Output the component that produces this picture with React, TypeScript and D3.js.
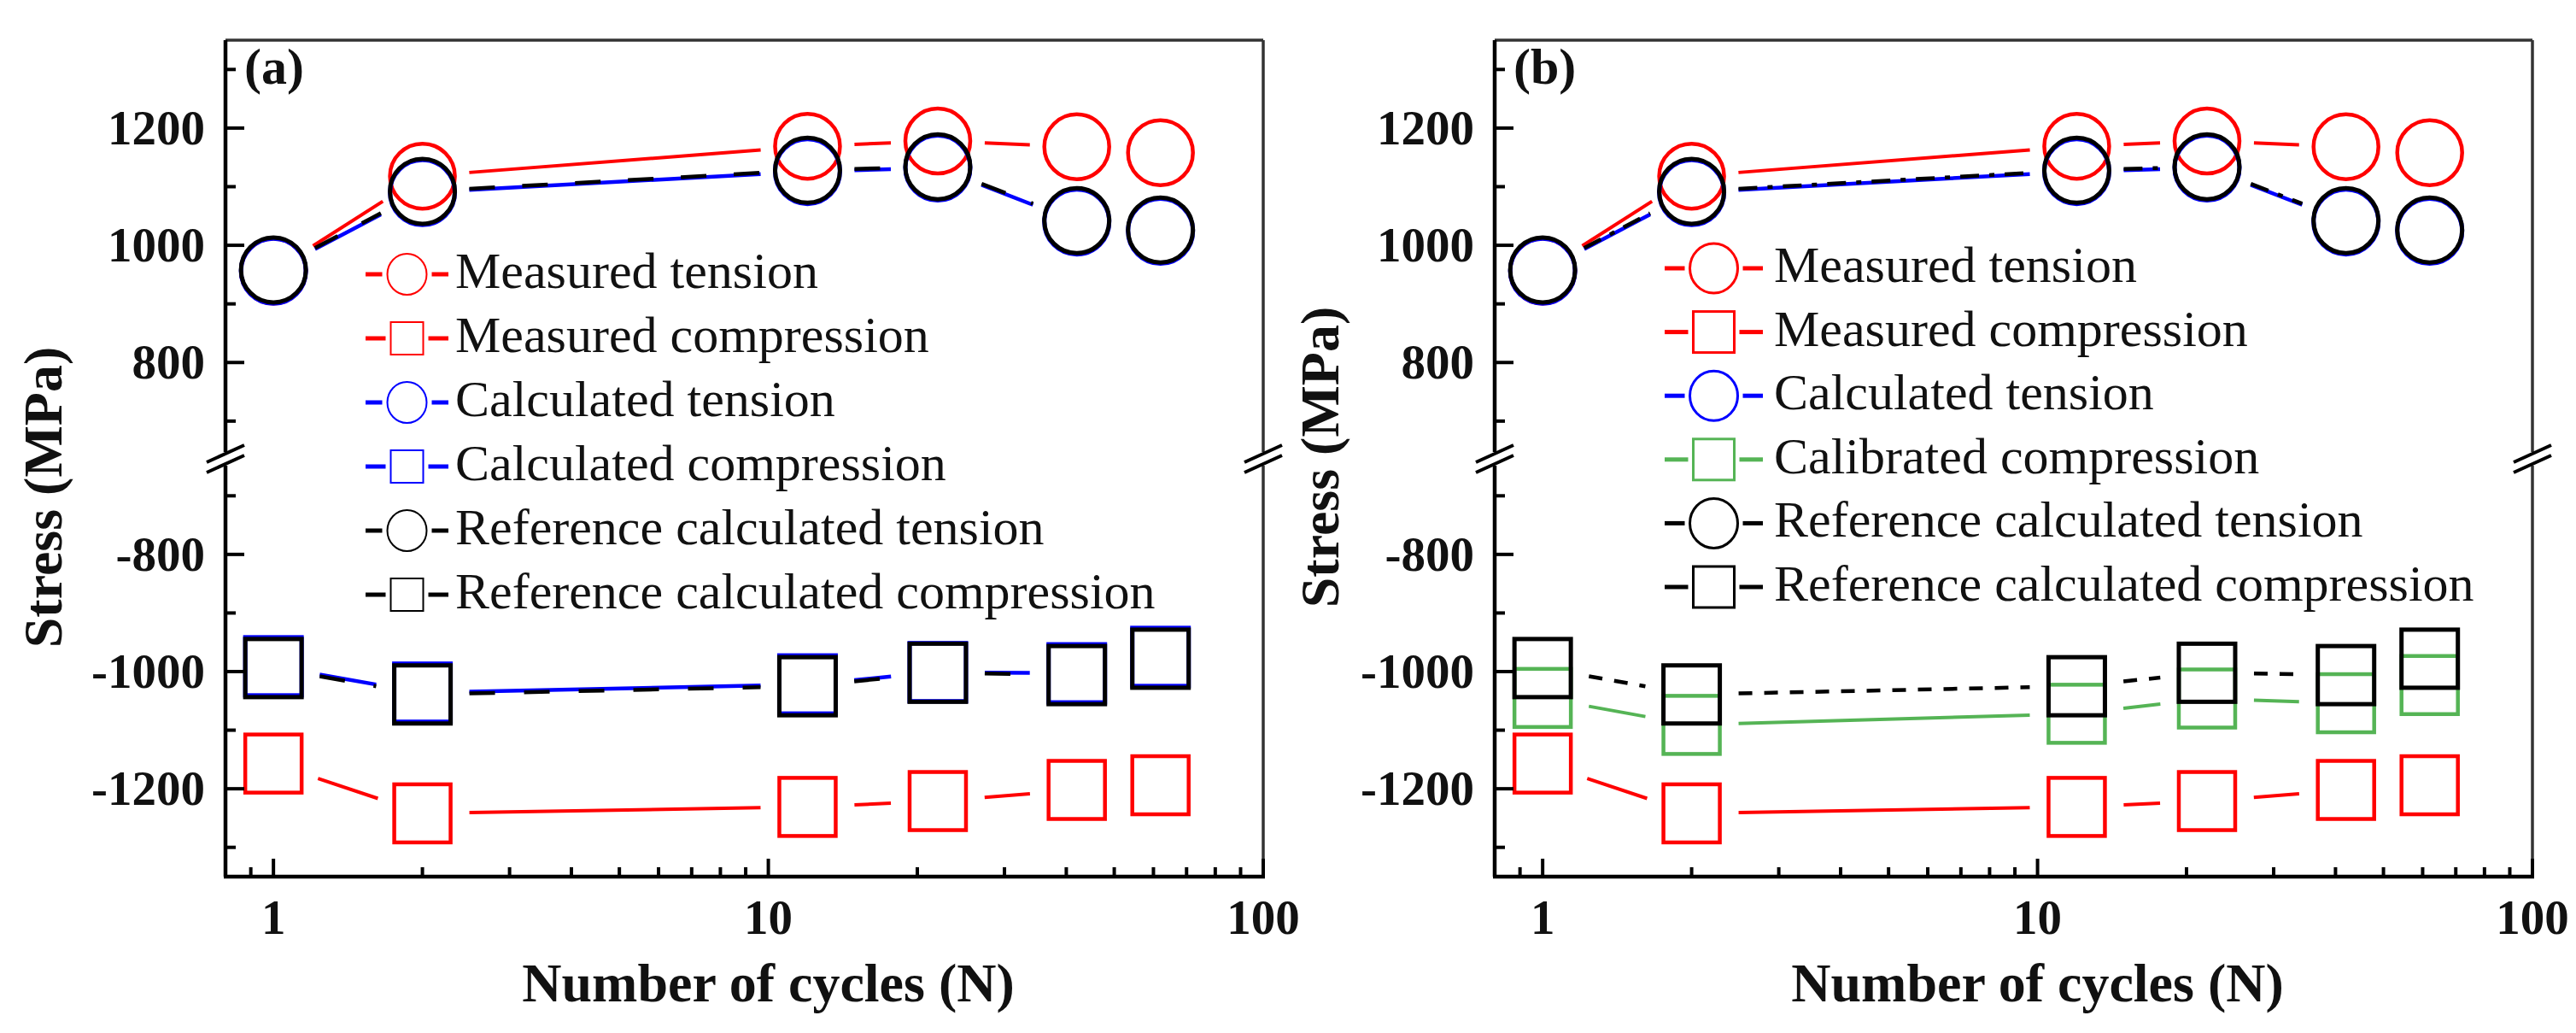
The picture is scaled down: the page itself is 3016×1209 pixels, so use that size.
import { useEffect, useRef } from 'react';
import * as d3 from 'd3';

const W = 3016;
const H = 1209;

// data (stress in MPa, N = cycle number)
const cycles = [1, 2, 12, 22, 42, 62];
const measuredTension = [956, 1118, 1169, 1178, 1168, 1158];
const measuredCompression = [-1157, -1242, -1231, -1221, -1202, -1194];
const calculatedTension = [956, 1090, 1126, 1132, 1040, 1024];
const calculatedCompression = [-991, -1036, -1022, -1001, -1003, -975];
const calibratedCompression = [-1045, -1091, -1072, -1046, -1054, -1023];
const refTension = [958, 1092, 1128, 1134, 1042, 1026];
const refCompression = [-994, -1039, -1025, -1002, -1006, -978];

const upperTicks = [800, 1000, 1200];
const upperMinor = [700, 900, 1100, 1300];
const lowerTicks = [-800, -1000, -1200];
const lowerMinor = [-700, -900, -1100, -1300];
const xTickLabels = ['1', '10', '100'];

const legendA = [
  'Measured tension',
  'Measured compression',
  'Calculated tension',
  'Calculated compression',
  'Reference calculated tension',
  'Reference calculated compression',
];
const legendB = [
  'Measured tension',
  'Measured compression',
  'Calculated tension',
  'Calibrated compression',
  'Reference calculated tension',
  'Reference calculated compression',
];

const RED = '#ff0000';
const BLUE = '#0000ff';
const GREEN = '#55b455';
const BLACK = '#000000';
const FONT = "'Liberation Serif', 'Times New Roman', serif";

type Series = {
  values: number[];
  color: string;
  marker: 'circle' | 'square';
  upper: boolean;
  dash: string | null;
  sw: number;
};

const seriesA: Series[] = [
  { values: measuredTension, color: RED, marker: 'circle', upper: true, dash: null, sw: 4 },
  { values: measuredCompression, color: RED, marker: 'square', upper: false, dash: null, sw: 4 },
  { values: calculatedTension, color: BLUE, marker: 'circle', upper: true, dash: null, sw: 4.5 },
  { values: calculatedCompression, color: BLUE, marker: 'square', upper: false, dash: null, sw: 4.5 },
  { values: refTension, color: BLACK, marker: 'circle', upper: true, dash: '30,32', sw: 4.5 },
  { values: refCompression, color: BLACK, marker: 'square', upper: false, dash: '30,34', sw: 4.5 },
];

const seriesB: Series[] = [
  { values: measuredTension, color: RED, marker: 'circle', upper: true, dash: null, sw: 4 },
  { values: measuredCompression, color: RED, marker: 'square', upper: false, dash: null, sw: 4 },
  { values: calculatedTension, color: BLUE, marker: 'circle', upper: true, dash: null, sw: 4.5 },
  { values: calibratedCompression, color: GREEN, marker: 'square', upper: false, dash: null, sw: 4 },
  { values: refTension, color: BLACK, marker: 'circle', upper: true, dash: '22,12,6,12', sw: 4.5 },
  { values: refCompression, color: BLACK, marker: 'square', upper: false, dash: '16,14', sw: 4.5 },
];

const legendColors = [
  [RED, RED, BLUE, BLUE, BLACK, BLACK],
  [RED, RED, BLUE, GREEN, BLACK, BLACK],
];
const legendMarkers: ('circle' | 'square')[] = ['circle', 'square', 'circle', 'square', 'circle', 'square'];

const PANELS = [
  {
    left: 264, tag: '(a)', series: seriesA, legend: legendA, colors: legendColors[0],
    legX: 428, legW: 97, legTextX: 533, legY0: 321, legStep: 75, legR: 23, legSq: 38, legSw: 2,
    yTitleX: 72, yTitleY: 582,
  },
  {
    left: 1750, tag: '(b)', series: seriesB, legend: legendB, colors: legendColors[1],
    legX: 1949, legW: 115, legTextX: 2077, legY0: 314, legStep: 74.6, legR: 28, legSq: 48, legSw: 3,
    yTitleX: 1567, yTitleY: 535,
  },
];

const PW = 1215;
const TOP = 47;
const BOTTOM = 1026;
const BREAK_Y = 537;
const GAP = 55;

function gapSegments(pts: [number, number][], gap: number) {
  const segs: [number, number, number, number][] = [];
  for (let i = 0; i < pts.length - 1; i++) {
    const [x0, y0] = pts[i];
    const [x1, y1] = pts[i + 1];
    const dx = x1 - x0, dy = y1 - y0;
    const len = Math.hypot(dx, dy);
    if (len <= 2 * gap + 2) continue;
    const ux = dx / len, uy = dy / len;
    segs.push([x0 + ux * gap, y0 + uy * gap, x1 - ux * gap, y1 - uy * gap]);
  }
  return segs;
}

export default function App() {
  const svgRef = useRef<SVGSVGElement>(null);

  useEffect(() => {
    if (!svgRef.current) return;
    const svg = d3.select(svgRef.current);
    svg.selectAll('*').remove();
    svg.append('rect').attr('width', W).attr('height', H).attr('fill', '#fff');

    const yUp = d3.scaleLinear().domain([640, 1350]).range([534, TOP]);
    const yLow = d3.scaleLinear().domain([-1350, -650]).range([BOTTOM, 546]);

    PANELS.forEach(p => {
      const x = d3.scaleLog().domain([0.8, 100]).range([p.left, p.left + PW]);
      const right = p.left + PW;
      const g = svg.append('g');

      // data lines (with gaps round the markers) and markers
      p.series.forEach(s => {
        const y = s.upper ? yUp : yLow;
        const pts: [number, number][] = cycles.map((c, i) => [x(c), y(s.values[i])]);
        gapSegments(pts, GAP).forEach(([x0, y0, x1, y1]) => {
          g.append('line')
            .attr('x1', x0).attr('y1', y0).attr('x2', x1).attr('y2', y1)
            .attr('stroke', s.color).attr('stroke-width', s.sw)
            .attr('stroke-dasharray', s.dash ?? null);
        });
        pts.forEach(([px, py]) => {
          if (s.marker === 'circle') {
            g.append('circle').attr('cx', px).attr('cy', py).attr('r', 38)
              .attr('fill', 'none').attr('stroke', s.color).attr('stroke-width', s.sw + 0.5);
          } else {
            g.append('rect').attr('x', px - 33).attr('y', py - 34).attr('width', 66).attr('height', 68)
              .attr('fill', 'none').attr('stroke', s.color).attr('stroke-width', s.sw + 0.5);
          }
        });
      });

      // frame: top and right thinner
      g.append('line').attr('x1', p.left).attr('x2', right).attr('y1', TOP).attr('y2', TOP)
        .attr('stroke', '#333').attr('stroke-width', 3.5);
      [[TOP, BREAK_Y - 8], [BREAK_Y + 8, BOTTOM]].forEach(([a, b]) => {
        g.append('line').attr('x1', p.left).attr('x2', p.left).attr('y1', a).attr('y2', b)
          .attr('stroke', BLACK).attr('stroke-width', 4.5);
        g.append('line').attr('x1', right).attr('x2', right).attr('y1', a).attr('y2', b)
          .attr('stroke', '#333').attr('stroke-width', 3.5);
      });
      g.append('line').attr('x1', p.left - 2).attr('x2', right + 2).attr('y1', BOTTOM).attr('y2', BOTTOM)
        .attr('stroke', BLACK).attr('stroke-width', 4.5);

      // axis break marks
      [p.left, right].forEach(ax => {
        [-6, 6].forEach(off => {
          g.append('line')
            .attr('x1', ax - 22).attr('y1', BREAK_Y + off + 10)
            .attr('x2', ax + 22).attr('y2', BREAK_Y + off - 10)
            .attr('stroke', BLACK).attr('stroke-width', 4);
        });
      });

      // y ticks
      const yTick = (v: number, sc: d3.ScaleLinear<number, number>, len: number) => {
        g.append('line').attr('x1', p.left).attr('x2', p.left + len).attr('y1', sc(v)).attr('y2', sc(v))
          .attr('stroke', BLACK).attr('stroke-width', 4);
      };
      upperTicks.forEach(v => yTick(v, yUp, 22));
      upperMinor.forEach(v => yTick(v, yUp, 12));
      lowerTicks.forEach(v => yTick(v, yLow, 22));
      lowerMinor.forEach(v => yTick(v, yLow, 12));

      [...upperTicks.map(v => ({ v, sc: yUp })), ...lowerTicks.map(v => ({ v, sc: yLow }))].forEach(({ v, sc }) => {
        g.append('text').attr('x', p.left - 24).attr('y', sc(v) + 19)
          .attr('text-anchor', 'end').attr('font-family', FONT).attr('font-weight', 'bold')
          .attr('font-size', 57).attr('fill', '#111').text(String(v));
      });

      // x ticks (log)
      x.ticks().forEach(v => {
        const major = Math.abs(Math.log10(v) - Math.round(Math.log10(v))) < 1e-9;
        g.append('line').attr('x1', x(v)).attr('x2', x(v)).attr('y1', BOTTOM).attr('y2', BOTTOM - (major ? 21 : 11))
          .attr('stroke', BLACK).attr('stroke-width', 4);
      });
      xTickLabels.forEach(t => {
        g.append('text').attr('x', x(+t)).attr('y', 1093)
          .attr('text-anchor', 'middle').attr('font-family', FONT).attr('font-weight', 'bold')
          .attr('font-size', 57).attr('fill', '#111').text(t);
      });

      // axis titles
      g.append('text').attr('x', p.left + PW / 2 + 28).attr('y', 1172)
        .attr('text-anchor', 'middle').attr('font-family', FONT).attr('font-weight', 'bold')
        .attr('font-size', 64).attr('fill', '#111').text('Number of cycles (N)');
      g.append('text').attr('transform', `translate(${p.yTitleX},${p.yTitleY}) rotate(-90)`)
        .attr('text-anchor', 'middle').attr('font-family', FONT).attr('font-weight', 'bold')
        .attr('font-size', 64).attr('fill', '#111').text('Stress (MPa)');

      // panel tag
      g.append('text').attr('x', p.left + 22).attr('y', 98)
        .attr('font-family', FONT).attr('font-weight', 'bold').attr('font-size', 60)
        .attr('fill', '#111').text(p.tag);

      // legend
      p.legend.forEach((label, i) => {
        const cy = p.legY0 + i * p.legStep;
        const cx = p.legX + p.legW / 2;
        const col = p.colors[i];
        const half = legendMarkers[i] === 'circle' ? p.legR : p.legSq / 2;
        g.append('line').attr('x1', p.legX).attr('x2', cx - half - 6).attr('y1', cy).attr('y2', cy)
          .attr('stroke', col).attr('stroke-width', 5);
        g.append('line').attr('x1', cx + half + 6).attr('x2', p.legX + p.legW).attr('y1', cy).attr('y2', cy)
          .attr('stroke', col).attr('stroke-width', 5);
        if (legendMarkers[i] === 'circle') {
          g.append('ellipse').attr('cx', cx).attr('cy', cy).attr('rx', p.legR).attr('ry', p.legR + 1)
            .attr('fill', 'none').attr('stroke', col).attr('stroke-width', p.legSw);
        } else {
          g.append('rect').attr('x', cx - p.legSq / 2).attr('y', cy - p.legSq / 2)
            .attr('width', p.legSq).attr('height', p.legSq)
            .attr('fill', 'none').attr('stroke', col).attr('stroke-width', p.legSw);
        }
        g.append('text').attr('x', p.legTextX).attr('y', cy + 16)
          .attr('font-family', FONT).attr('font-size', 60).attr('fill', '#111').text(label);
      });
    });
  }, []);

  return (
    <svg
      ref={svgRef}
      width={W}
      height={H}
      style={{ position: 'absolute', left: 0, top: 0, display: 'block' }}
    />
  );
}
